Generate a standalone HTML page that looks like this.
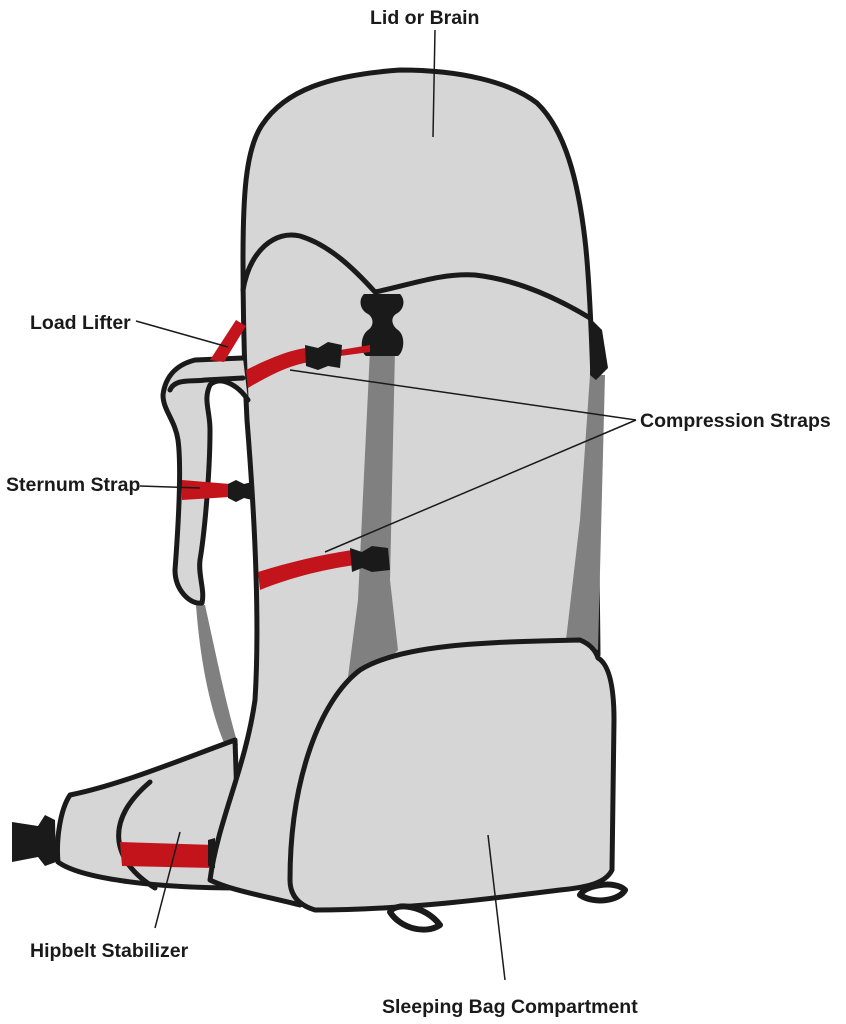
<!DOCTYPE html>
<html><head><style>
html,body{margin:0;padding:0;background:#fff;}
svg{display:block;}
text{font-family:"Liberation Sans",sans-serif;font-weight:bold;font-size:19.5px;fill:#1a1a1a;}
</style></head><body>
<svg width="846" height="1024" viewBox="0 0 846 1024" xmlns="http://www.w3.org/2000/svg">
<g stroke="#1a1a1a" stroke-width="5" stroke-linejoin="round" stroke-linecap="round">
<path d="M196 605 C200 660 210 710 225 745 L238 745 C225 700 215 650 205 605 Z" fill="#808080" stroke="none"/>
<path d="M235 740 C180 760 120 785 70 795 C60 810 56 840 58 862 C80 878 150 888 240 888 Z" fill="#d6d6d6"/>
<path d="M150 782 C105 820 110 860 155 888" fill="none"/>
<path d="M120 842 L215 845 L213 868 L122 866 Z" fill="#c3141c" stroke="none"/>
<path d="M12 822 L38 826 L45 815 L55 820 L56 862 L45 866 L38 857 L12 862 Z" fill="#1a1a1a" stroke="none"/>
<path d="M243 260 C243 200 245 150 262 125 C285 90 330 75 400 70 C460 70 510 82 537 103 C565 130 578 180 585 240 C592 300 596 450 598 655 L300 905 C260 895 230 890 210 880 C218 820 245 770 255 700 C260 620 255 520 247 420 C244 360 243 300 243 260 Z" fill="#d6d6d6"/>
<path d="M243 290 C250 250 275 230 300 236 C330 245 355 270 375 292 C410 285 440 273 475 275 C520 280 560 300 590 318" fill="none"/>
<path d="M370 350 L395 350 L390 580 L398 650 L345 700 L358 600 Z" fill="#808080" stroke="none"/>
<path d="M590 375 L605 375 L598 650 L566 640 L580 520 Z" fill="#808080" stroke="none"/>
<path d="M364 294 L400 294 C406 300 404 310 396 314 C390 318 392 326 398 330 C406 336 404 352 398 356 L366 356 C360 352 360 336 368 330 C374 326 374 318 368 314 C360 310 358 300 364 294 Z" fill="#1a1a1a" stroke="none"/>
<path d="M592 320 L602 330 L608 368 L596 380 L590 375 Z" fill="#1a1a1a" stroke="none"/>
<path d="M290 880 C290 780 320 700 360 670 C400 645 480 642 580 640 C592 645 596 652 598 658 C610 665 614 690 614 720 L612 870 C605 885 580 888 560 890 C480 900 400 910 315 910 C298 905 290 895 290 880 Z" fill="#d6d6d6"/>
<path d="M580 895 C585 885 615 880 625 890 C620 900 595 905 580 895 Z" fill="none" stroke-width="6"/>
<path d="M390 912 C395 902 425 905 440 925 C425 935 400 928 390 912 Z" fill="none" stroke-width="6"/>
<path d="M243 358 L195 360 C175 365 165 378 163 395 C163 410 175 420 178 440 C182 470 178 530 175 570 C175 590 190 605 202 603 C205 590 198 575 200 560 C205 530 210 470 210 430 C210 410 203 400 210 385 C220 375 238 385 248 400" fill="#d6d6d6"/>
<path d="M243 378 L205 380 C192 382 175 378 170 390" fill="none"/>
<path d="M210 360 L236 320 L246 326 L224 362 Z" fill="#c3141c" stroke="none"/>
<path d="M246 370 C270 358 290 350 306 348 L310 362 C290 365 270 375 248 388 Z" fill="#c3141c" stroke="none"/>
<path d="M340 350 L370 345 L370 352 L340 356 Z" fill="#c3141c" stroke="none"/>
<path d="M182 480 L230 484 L230 497 L182 500 Z" fill="#c3141c" stroke="none"/>
<path d="M258 572 C290 562 320 555 352 550 L355 565 C320 570 290 578 260 590 Z" fill="#c3141c" stroke="none"/>
<path d="M305 345 L318 348 L328 342 L342 345 L340 368 L328 366 L318 370 L306 366 Z" fill="#1a1a1a" stroke="none"/>
<path d="M228 484 L236 480 L244 484 L252 482 L252 500 L244 498 L236 502 L228 498 Z" fill="#1a1a1a" stroke="none"/>
<path d="M350 548 L362 552 L372 546 L388 548 L390 570 L372 572 L362 568 L352 572 Z" fill="#1a1a1a" stroke="none"/>
<path d="M208 840 L215 838 L215 868 L208 866 Z" fill="#1a1a1a" stroke="none"/>
</g>
<g stroke="#1a1a1a" stroke-width="1.5" fill="none">
<line x1="435" y1="30" x2="433" y2="137"/>
<line x1="136" y1="321" x2="228" y2="347"/>
<line x1="290" y1="370" x2="636" y2="420"/>
<line x1="636" y1="420" x2="325" y2="552"/>
<line x1="140" y1="486" x2="200" y2="488"/>
<line x1="155" y1="928" x2="180" y2="832"/>
<line x1="505" y1="980" x2="488" y2="835"/>
</g>
<text x="370" y="24">Lid or Brain</text>
<text x="30" y="329">Load Lifter</text>
<text x="640" y="427">Compression Straps</text>
<text x="6" y="491">Sternum Strap</text>
<text x="30" y="957">Hipbelt Stabilizer</text>
<text x="382" y="1013">Sleeping Bag Compartment</text>
</svg>
</body></html>
